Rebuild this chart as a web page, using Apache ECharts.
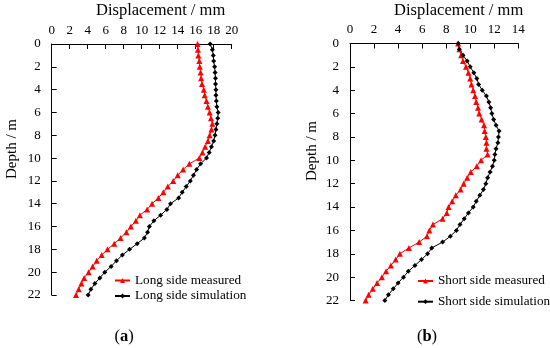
<!DOCTYPE html>
<html>
<head>
<meta charset="utf-8">
<script src="https://cdn.jsdelivr.net/npm/echarts@6/dist/echarts.min.js"></script>
<style>html,body{margin:0;padding:0;background:#fff;}#c{width:550px;height:348px;}</style>
</head>
<body>
<div id="c"></div>
<script>
var depths = [0,0.5,1,1.5,2,2.5,3,3.5,4,4.5,5,5.5,6,6.5,7,7.5,8,8.5,9,9.5,10,10.5,11,11.5,12,12.5,13,13.5,14,14.5,15,15.5,16,16.5,17,17.5,18,18.5,19,19.5,20,20.5,21,21.5,22];
var longMeasured = [16.2,16.25,16.3,16.4,16.45,16.55,16.6,16.7,16.9,17.0,17.2,17.35,17.55,17.7,17.85,17.75,17.55,17.35,17.05,16.75,16.4,15.3,14.6,14.0,13.5,12.9,12.4,11.85,11.15,10.6,9.8,9.35,8.8,8.3,7.65,6.95,6.2,5.55,5.0,4.55,4.1,3.6,3.3,3.0,2.7];
var longSimulation = [17.6,17.85,17.95,18.0,18.1,18.15,18.2,18.2,18.25,18.25,18.3,18.35,18.5,18.45,18.35,18.25,18.15,18.0,17.75,17.5,17.2,16.55,16.1,15.75,15.4,14.95,14.5,14.1,13.2,12.8,12.1,11.35,10.85,10.65,10.3,9.5,8.65,7.85,7.2,6.6,5.9,5.35,4.8,4.35,4.05];
var shortMeasured = [9.0,9.1,9.25,9.4,9.65,9.85,10.0,10.1,10.25,10.4,10.5,10.65,10.75,10.95,11.15,11.2,11.3,11.35,11.35,11.45,10.9,10.55,10.05,9.75,9.45,9.2,8.8,8.5,8.2,8.05,7.7,6.9,6.6,6.4,5.75,4.9,4.15,3.8,3.4,3.0,2.65,2.25,1.9,1.55,1.3];
var shortSimulation = [9.0,9.1,9.4,9.75,10.0,10.3,10.55,10.7,11.0,11.35,11.55,11.7,11.8,11.95,12.15,12.4,12.35,12.3,12.15,12.05,12.0,11.85,11.65,11.45,11.3,11.1,10.8,10.5,10.25,9.85,9.5,9.15,8.85,8.35,7.7,6.8,6.45,5.95,5.4,4.85,4.45,4.0,3.6,3.2,2.9];
var xTicksLeft = {min:0, max:20, interval:2};
var xTicksRight = {min:0, max:14, interval:2};
var yTicks = {min:0, max:22, interval:2};
var xName = 'Displacement / mm';
var yName = 'Depth / m';
var seriesNames = ['Long side measured','Long side simulation','Short side measured','Short side simulation'];

function pairs(vals){ return vals.map(function(v,i){ return [v, depths[i]]; }); }

var FONT = '"Liberation Serif","Times New Roman",serif';
var axisLineStyle = {show:true, lineStyle:{color:'#000', width:1}};
function xAxis(idx, t){
  return {type:'value', gridIndex:idx, position:'top', min:t.min, max:t.max, interval:t.interval,
    axisLine:axisLineStyle, axisTick:{show:true, inside:true, length:5, lineStyle:{color:'#000'}},
    axisLabel:{color:'#000', fontFamily:FONT, fontSize:13, margin:7},
    splitLine:{show:false}};
}
function yAxis(idx){
  return {type:'value', gridIndex:idx, inverse:true, min:yTicks.min, max:yTicks.max, interval:yTicks.interval,
    axisLine:axisLineStyle, axisTick:{show:true, inside:true, length:5, lineStyle:{color:'#000'}},
    axisLabel:{color:'#000', fontFamily:FONT, fontSize:13, margin:11},
    splitLine:{show:false}};
}
function meas(name, vals, idx){
  return {name:name, type:'line', xAxisIndex:idx, yAxisIndex:idx, data:pairs(vals),
    symbol:'triangle', symbolSize:6, color:'#ff0000',
    lineStyle:{color:'#ff0000', width:1}, itemStyle:{color:'#ff0000'}, animation:false};
}
function sim(name, vals, idx){
  return {name:name, type:'line', xAxisIndex:idx, yAxisIndex:idx, data:pairs(vals),
    symbol:'diamond', symbolSize:5, color:'#000',
    lineStyle:{color:'#000', width:1}, itemStyle:{color:'#000'}, animation:false};
}
var chart = echarts.init(document.getElementById('c'), null, {renderer:'canvas'});
chart.setOption({
  backgroundColor:'#fff',
  animation:false,
  grid:[
    {left:51.7, top:44, width:180, height:251},
    {left:350, top:43.5, width:168.3, height:257}
  ],
  xAxis:[xAxis(0, xTicksLeft), xAxis(1, xTicksRight)],
  yAxis:[yAxis(0), yAxis(1)],
  legend:[
    {data:[seriesNames[0],seriesNames[1]], orient:'vertical', left:114, top:273, padding:0, itemWidth:15, itemHeight:6, itemGap:0.5,
      textStyle:{fontFamily:FONT, fontSize:13.2, color:'#000', lineHeight:15}},
    {data:[seriesNames[2],seriesNames[3]], orient:'vertical', left:417, top:273.5, padding:0, itemWidth:15, itemHeight:6, itemGap:5.7,
      textStyle:{fontFamily:FONT, fontSize:13.2, color:'#000', lineHeight:15}}
  ],
  graphic:[
    {type:'text', left:96, top:2, style:{text:xName, font:'16.5px '+FONT, fill:'#000'}},
    {type:'text', left:394, top:2, style:{text:xName, font:'16.5px '+FONT, fill:'#000'}},
    {type:'text', x:12, y:149, rotation:Math.PI/2, style:{text:yName, font:'15px '+FONT, fill:'#000', align:'center', verticalAlign:'middle'}},
    {type:'text', x:312, y:151, rotation:Math.PI/2, style:{text:yName, font:'15px '+FONT, fill:'#000', align:'center', verticalAlign:'middle'}},
    {type:'text', x:124, y:337, style:{text:'({b|a})', font:'16.5px '+FONT, fill:'#000', align:'center', verticalAlign:'middle', rich:{b:{fontWeight:'bold', fontFamily:FONT, fontSize:16.5}}}},
    {type:'text', x:427, y:337, style:{text:'({b|b})', font:'16.5px '+FONT, fill:'#000', align:'center', verticalAlign:'middle', rich:{b:{fontWeight:'bold', fontFamily:FONT, fontSize:16.5}}}}
  ],
  series:[
    meas(seriesNames[0], longMeasured, 0),
    sim(seriesNames[1], longSimulation, 0),
    meas(seriesNames[2], shortMeasured, 1),
    sim(seriesNames[3], shortSimulation, 1)
  ]
});
</script>
</body>
</html>
